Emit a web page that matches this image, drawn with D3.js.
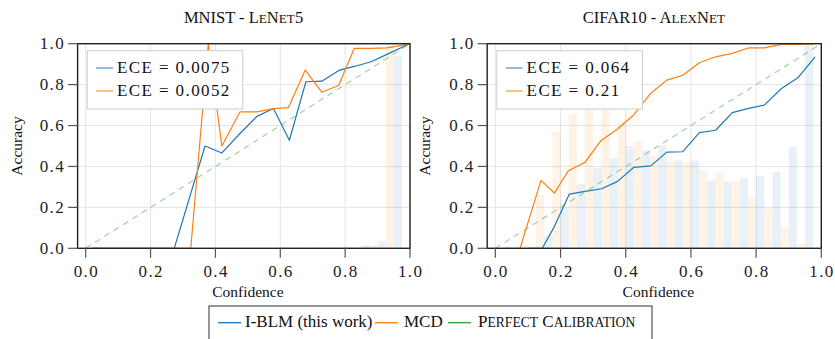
<!DOCTYPE html>
<html>
<head>
<meta charset="utf-8">
<script src="https://cdn.jsdelivr.net/npm/d3@7/dist/d3.min.js"></script>
<style>
  html, body { margin: 0; padding: 0; background: #fff; }
  svg { display: block; }
  .serif { font-family: "Liberation Serif", "Times New Roman", serif; }
  .math { font-family: "Liberation Serif", "Times New Roman", serif; letter-spacing: 1.4px; }
</style>
</head>
<body>
<svg id="chart" width="835" height="339"></svg>
<script>
// ---------------- DATA ----------------
const panelTitles = ["MNIST - ", "CIFAR10 - "];
const panelTitlesSC = ["LeNet5", "AlexNet"];
const xTicks = [0.0, 0.2, 0.4, 0.6, 0.8, 1.0];
const yTicks = [0.0, 0.2, 0.4, 0.6, 0.8, 1.0];
const seriesNames = ["I-BLM (this work)", "MCD", "Perfect Calibration"];
const eceLeft = ["ECE = 0.0075", "ECE = 0.0052"];
const eceRight = ["ECE = 0.064", "ECE = 0.21"];

// histogram bin positions (confidence)
const binX = [0.00, 0.05, 0.10, 0.15, 0.20, 0.25, 0.30, 0.35, 0.40, 0.45,
              0.50, 0.55, 0.60, 0.65, 0.70, 0.75, 0.80, 0.85, 0.90, 0.95];

// MNIST - LeNet5
const mnistHistBLM = [0, 0, 0, 0, 0, 0, 0, 0, 0, 0,
                      0, 0, 0.005, 0.005, 0.005, 0.005, 0.008, 0.016, 0.033, 0.94];
const mnistHistMCD = [0, 0, 0, 0, 0, 0, 0, 0, 0, 0,
                      0, 0, 0, 0, 0, 0, 0, 0.005, 0.015, 0.99];
const mnistConfBLM = [0.02, 0.273, 0.368, 0.42, 0.475, 0.528, 0.579, 0.628, 0.679, 0.728, 0.783, 0.831, 0.88, 0.929, 0.995];
const mnistAccBLM  = [0.0,  0.0,   0.50,  0.466, 0.56, 0.645, 0.683, 0.528, 0.814, 0.817, 0.871, 0.89, 0.912, 0.948, 0.997];
const mnistConfMCD = [0.02, 0.324, 0.378, 0.42, 0.476, 0.528, 0.579, 0.625, 0.677, 0.728, 0.78, 0.828, 0.877, 0.929, 0.995];
const mnistAccMCD  = [0.0,  0.0,   1.0,   0.50, 0.667, 0.667, 0.683, 0.688, 0.871, 0.763, 0.796, 0.977, 0.977, 0.98, 0.998];

// CIFAR10 - AlexNet
const cifarHistBLM = [0.004, 0, 0.004, 0.06, 0.20, 0.315, 0.392, 0.441, 0.50, 0.479,
                      0.503, 0.43, 0.43, 0.332, 0.327, 0.343, 0.355, 0.373, 0.495, 1.0];
const cifarHistMCD = [0, 0.005, 0.018, 0.26, 0.569, 0.657, 0.706, 0.678, 0.618, 0.523,
                      0.454, 0.425, 0.417, 0.381, 0.371, 0.327, 0.248, 0.193, 0.098, 0.025];
const cifarConfBLM = [0.10, 0.144, 0.181, 0.227, 0.275, 0.326, 0.375, 0.425, 0.477, 0.526, 0.575, 0.626, 0.676, 0.727, 0.774, 0.825, 0.878, 0.928, 0.981];
const cifarAccBLM  = [0.0,  0.0,   0.106, 0.265, 0.278, 0.291, 0.327, 0.396, 0.403, 0.47,  0.472, 0.565, 0.577, 0.663, 0.683, 0.70,  0.781, 0.833, 0.936];
const cifarConfMCD = [0.03, 0.076, 0.14, 0.181, 0.224, 0.275, 0.324, 0.375, 0.425, 0.475, 0.526, 0.575, 0.626, 0.676, 0.727, 0.778, 0.825, 0.878, 0.928, 0.98];
const cifarAccMCD  = [0.0,  0.0,   0.332, 0.27, 0.379, 0.42,  0.526, 0.583, 0.653, 0.755, 0.822, 0.846, 0.907, 0.936, 0.953, 0.98,  0.98,  0.997, 0.997, 1.0];

const diagonal = [0, 1];

// ---------------- STYLE ----------------
const BLUE = "#1f77b4", ORANGE = "#ff7f0e", GREEN = "#2ca02c";

const svg = d3.select("#chart");

// LaTeX-like small caps: lowercase runs drawn as smaller capitals
function smallCaps(textSel, str, size) {
  const runs = str.match(/[a-z]+|[^a-z]+/g) || [];
  runs.forEach(r => {
    const lower = /^[a-z]+$/.test(r);
    textSel.append("tspan").attr("font-size", lower ? size * 0.8 : size)
      .text(lower ? r.toUpperCase() : r);
  });
}

const panels = [
  { title: panelTitles[0], titleSC: panelTitlesSC[0], x0: 77.6, x1: 410, titleX: 243.5,
    histB: mnistHistBLM, histM: mnistHistMCD,
    confB: mnistConfBLM, accB: mnistAccBLM, confM: mnistConfMCD, accM: mnistAccMCD,
    ece: eceLeft, ylabX: 21.5 },
  { title: panelTitles[1], titleSC: panelTitlesSC[1], x0: 487.2, x1: 821.3, titleX: 654,
    histB: cifarHistBLM, histM: cifarHistMCD,
    confB: cifarConfBLM, accB: cifarAccBLM, confM: cifarConfMCD, accM: cifarAccMCD,
    ece: eceRight, ylabX: 430 }
];

const yTop = 43.7, yBot = 248.3;

panels.forEach((p, i) => {
  const x = d3.scaleLinear().domain([-0.025, 1.0]).range([p.x0, p.x1]);
  const y = d3.scaleLinear().domain([0, 1]).range([yBot, yTop]);
  const g = svg.append("g");

  const clipId = "clip" + i;
  svg.append("clipPath").attr("id", clipId)
    .append("rect").attr("x", p.x0).attr("y", yTop).attr("width", p.x1 - p.x0).attr("height", yBot - yTop);

  // grid
  g.append("g").selectAll("line").data(xTicks).join("line")
    .attr("x1", d => x(d)).attr("x2", d => x(d)).attr("y1", yTop).attr("y2", yBot)
    .attr("stroke", "#e4e4e4").attr("stroke-width", 1);
  g.append("g").selectAll("line").data(yTicks).join("line")
    .attr("x1", p.x0).attr("x2", p.x1).attr("y1", d => y(d)).attr("y2", d => y(d))
    .attr("stroke", "#e4e4e4").attr("stroke-width", 1);

  const plot = g.append("g").attr("clip-path", `url(#${clipId})`);
  const bw = 0.025;
  // histogram bars
  plot.append("g").selectAll("rect").data(binX.map((b, k) => [b, p.histM[k]])).join("rect")
    .attr("x", d => x(d[0] - bw)).attr("width", d => x(d[0]) - x(d[0] - bw))
    .attr("y", d => y(d[1])).attr("height", d => y(0) - y(d[1]))
    .attr("fill", ORANGE).attr("fill-opacity", 0.1);
  plot.append("g").selectAll("rect").data(binX.map((b, k) => [b, p.histB[k]])).join("rect")
    .attr("x", d => x(d[0])).attr("width", d => x(d[0] + bw) - x(d[0]))
    .attr("y", d => y(d[1])).attr("height", d => y(0) - y(d[1]))
    .attr("fill", BLUE).attr("fill-opacity", 0.1);

  // perfect calibration
  plot.append("line")
    .attr("x1", x(diagonal[0])).attr("y1", y(diagonal[0]))
    .attr("x2", x(diagonal[1])).attr("y2", y(diagonal[1]))
    .attr("stroke", GREEN).attr("stroke-opacity", 0.45).attr("stroke-width", 1.2)
    .attr("stroke-dasharray", "6,5");

  const line = d3.line().x(d => x(d[0])).y(d => y(d[1]));
  plot.append("path").datum(p.confB.map((c, k) => [c, p.accB[k]]))
    .attr("d", line).attr("fill", "none").attr("stroke", BLUE).attr("stroke-width", 1.2)
    .attr("stroke-linejoin", "round");
  plot.append("path").datum(p.confM.map((c, k) => [c, p.accM[k]]))
    .attr("d", line).attr("fill", "none").attr("stroke", ORANGE).attr("stroke-width", 1.2)
    .attr("stroke-linejoin", "round");

  // frame
  g.append("rect").attr("x", p.x0).attr("y", yTop).attr("width", p.x1 - p.x0).attr("height", yBot - yTop)
    .attr("fill", "none").attr("stroke", "#222").attr("stroke-width", 1.4);

  // ticks
  g.append("g").selectAll("line").data(xTicks).join("line")
    .attr("x1", d => x(d)).attr("x2", d => x(d)).attr("y1", yBot).attr("y2", yBot + 9.5)
    .attr("stroke", "#555").attr("stroke-width", 1.2);
  g.append("g").selectAll("line").data(yTicks).join("line")
    .attr("x1", p.x0 - 9.5).attr("x2", p.x0).attr("y1", d => y(d)).attr("y2", d => y(d))
    .attr("stroke", "#555").attr("stroke-width", 1.2);

  // tick labels
  g.append("g").selectAll("text").data(xTicks).join("text")
    .attr("class", "math").attr("x", d => x(d) + 0.7).attr("y", 276.5)
    .attr("text-anchor", "middle").attr("font-size", 17).attr("fill", "#222")
    .text(d => d3.format(".1f")(d));
  g.append("g").selectAll("text").data(yTicks).join("text")
    .attr("class", "math").attr("x", p.x0 - 12.5).attr("y", d => y(d) + 5.6)
    .attr("text-anchor", "end").attr("font-size", 17).attr("fill", "#222")
    .text(d => d3.format(".1f")(d));

  // axis labels
  g.append("text").attr("class", "serif").attr("x", (x(0) + x(1)) / 2).attr("y", 297)
    .attr("text-anchor", "middle").attr("font-size", 15.5).attr("fill", "#111").text("Confidence");
  g.append("text").attr("class", "serif")
    .attr("transform", `translate(${p.ylabX},${(yTop + yBot) / 2}) rotate(-90)`)
    .attr("text-anchor", "middle").attr("font-size", 15.5).attr("fill", "#111").text("Accuracy");

  // title
  const tSize = 16.5;
  const t = g.append("text").attr("class", "serif").attr("x", p.titleX).attr("y", 22.5)
    .attr("text-anchor", "middle").attr("font-size", tSize).attr("fill", "#111");
  t.append("tspan").text(p.title);
  smallCaps(t, p.titleSC, tSize);

  // in-plot legend
  const lx = p.x0 + 9.7, ly = 50.7;
  const lg = g.append("g");
  const box = lg.append("rect").attr("x", lx).attr("y", ly).attr("height", 58.3)
    .attr("fill", "#fff").attr("stroke", "#cccccc").attr("stroke-width", 1);
  const cols = [BLUE, ORANGE];
  let maxEnd = 0;
  p.ece.forEach((s, k) => {
    const yy = 68 + k * 23;
    lg.append("line").attr("x1", lx + 8.7).attr("x2", lx + 25.7).attr("y1", yy).attr("y2", yy)
      .attr("stroke", cols[k]).attr("stroke-opacity", 0.75).attr("stroke-width", 1.3);
    const tx = lg.append("text").attr("class", "math").attr("x", lx + 29.7).attr("y", yy + 5.2)
      .attr("font-size", 17).attr("fill", "#111").attr("xml:space", "preserve").text(s);
    const bb = tx.node().getBBox();
    maxEnd = Math.max(maxEnd, bb.x + bb.width);
  });
  box.attr("width", maxEnd - lx + 12);
});

// bottom legend
const bl = svg.append("g");
bl.append("rect").attr("x", 209).attr("y", 306).attr("width", 443).attr("height", 34)
  .attr("fill", "#fff").attr("stroke", "#333").attr("stroke-width", 1);
const legItems = [
  { name: seriesNames[0], color: BLUE, lx: 218, tx: 245, sc: false },
  { name: seriesNames[1], color: ORANGE, lx: 375, tx: 404, sc: false },
  { name: seriesNames[2], color: GREEN, lx: 448, tx: 478, sc: true }
];
legItems.forEach(it => {
  bl.append("line").attr("x1", it.lx).attr("x2", it.lx + 23).attr("y1", 322.7).attr("y2", 322.7)
    .attr("stroke", it.color).attr("stroke-width", 1.3);
  const t = bl.append("text").attr("class", "serif").attr("x", it.tx).attr("y", 326.5)
    .attr("font-size", 17).attr("fill", "#111");
  if (it.sc) smallCaps(t, it.name, 17); else t.text(it.name);
});
</script>
</body>
</html>
